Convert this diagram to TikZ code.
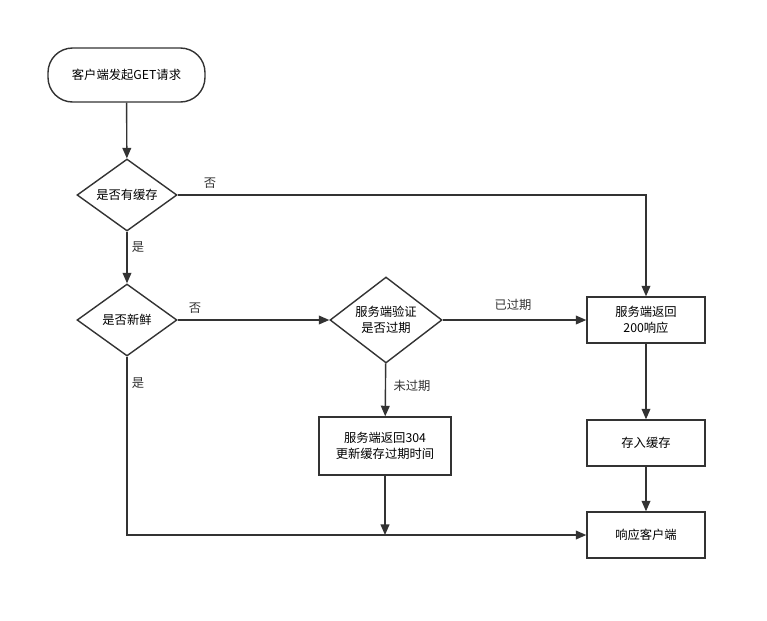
\documentclass[tikz,border=0pt]{standalone}
\usepackage{fontspec}
\setmainfont{Noto Sans CJK SC}
\usetikzlibrary{shapes.geometric,arrows.meta}
\tikzset{>={Triangle[length=6pt,width=5pt]}}
\definecolor{ink}{HTML}{333333}
\tikzset{
  box/.style={draw=ink,line width=0.8pt,rectangle,align=center,inner sep=0pt},
  dec/.style={draw=ink,line width=0.8pt,diamond,aspect=1.4,align=center,inner sep=0pt},
  flow/.style={->,draw=ink,line width=0.8pt},
  lbl/.style={text=ink}
}

\begin{document}
\begin{tikzpicture}[x=0.02cm,y=-0.02cm,font=\fontsize{7}{9}\selectfont]
\useasboundingbox (0,0) rectangle (767,620);
% nodes
\node[box,rounded corners=14pt,minimum width=157*0.02cm,minimum height=54*0.02cm] (start) at (126.5,75) {客户端发起GET请求};
\node[dec,minimum width=100*0.02cm,minimum height=72*0.02cm] (cached) at (127,195) {是否有缓存};
\node[dec,minimum width=100*0.02cm,minimum height=72*0.02cm] (fresh) at (127,320) {是否新鲜};
\node[dec,minimum width=112*0.02cm,minimum height=86*0.02cm] (verify) at (386,320) {服务端验证\\是否过期};
\node[box,minimum width=118*0.02cm,minimum height=46*0.02cm] (ok) at (646,320) {服务端返回\\200响应};
\node[box,minimum width=132*0.02cm,minimum height=58*0.02cm] (notmod) at (385,446) {服务端返回304\\更新缓存过期时间};
\node[box,minimum width=118*0.02cm,minimum height=46*0.02cm] (store) at (646,443) {存入缓存};
\node[box,minimum width=118*0.02cm,minimum height=46*0.02cm] (reply) at (646,535) {响应客户端};
\coordinate (join) at (385,535);
% connectors
\draw[flow] (start) -- (cached);
\draw[flow] (cached.east) -- (ok.north |- cached.east) -- (ok.north);
\draw[flow] (cached) -- (fresh);
\draw[flow] (fresh) -- (verify);
\draw[flow] (verify) -- (ok);
\draw[flow] (verify) -- (notmod);
\draw[flow] (ok) -- (store);
\draw[flow] (store) -- (reply);
\draw[flow] (fresh.south) -- (fresh.south |- reply.west) -- (reply.west);
\draw[flow] (notmod.south) -- (join);
% labels
\node[lbl] (l1) at (210,183) {否};
\node[lbl] (l2) at (138,247) {是};
\node[lbl] (l3) at (195,308) {否};
\node[lbl] (l4) at (513,305) {已过期};
\node[lbl] (l5) at (412,386) {未过期};
\node[lbl] (l6) at (138,383) {是};
\end{tikzpicture}
\end{document}
